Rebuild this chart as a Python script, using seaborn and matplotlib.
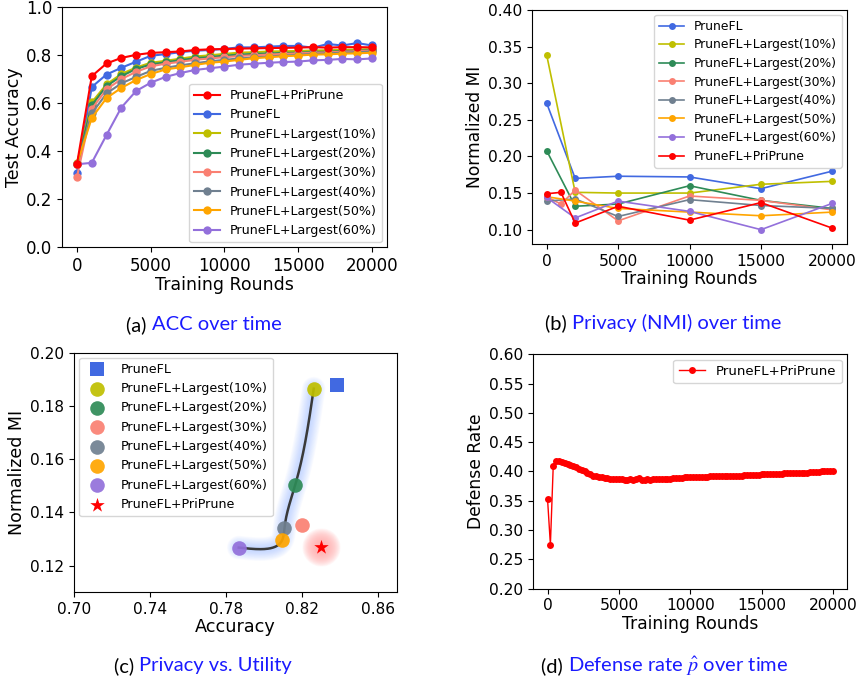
import numpy as np
import pandas as pd
import matplotlib
matplotlib.use("Agg")
import matplotlib.pyplot as plt
import seaborn as sns

plt.rcParams["font.family"] = ["DejaVu Sans"]
plt.rcParams["mathtext.fontset"] = "stix"

# ---------------------------------------------------------------- data
rounds_acc = [0, 1000, 2000, 3000, 4000, 5000, 6000, 7000, 8000, 9000, 10000,
              11000, 12000, 13000, 14000, 15000, 16000, 17000, 18000, 19000, 20000]

acc_priprune = [0.348, 0.713, 0.766, 0.789, 0.802, 0.810, 0.813, 0.816, 0.822, 0.825, 0.826,
                0.828, 0.829, 0.830, 0.831, 0.832, 0.834, 0.832, 0.834, 0.834, 0.833]
acc_prunefl = [0.310, 0.668, 0.720, 0.748, 0.773, 0.798, 0.805, 0.813, 0.819, 0.822, 0.827,
               0.833, 0.833, 0.836, 0.839, 0.839, 0.832, 0.847, 0.841, 0.851, 0.841]
acc_l10 = [0.350, 0.604, 0.679, 0.722, 0.749, 0.769, 0.777, 0.786, 0.795, 0.800, 0.806,
           0.811, 0.813, 0.816, 0.817, 0.818, 0.820, 0.821, 0.823, 0.824, 0.826]
acc_l20 = [0.347, 0.592, 0.672, 0.713, 0.743, 0.762, 0.771, 0.780, 0.788, 0.793, 0.799,
           0.803, 0.806, 0.808, 0.810, 0.811, 0.814, 0.815, 0.818, 0.819, 0.822]
acc_l30 = [0.295, 0.577, 0.658, 0.701, 0.731, 0.754, 0.765, 0.773, 0.781, 0.787, 0.792,
           0.797, 0.800, 0.803, 0.806, 0.808, 0.811, 0.812, 0.815, 0.817, 0.820]
acc_l40 = [0.346, 0.558, 0.641, 0.683, 0.710, 0.735, 0.748, 0.758, 0.767, 0.775, 0.781,
           0.787, 0.791, 0.795, 0.799, 0.802, 0.806, 0.808, 0.811, 0.813, 0.816]
acc_l50 = [0.348, 0.539, 0.622, 0.664, 0.697, 0.722, 0.741, 0.750, 0.760, 0.769, 0.774,
           0.781, 0.788, 0.792, 0.796, 0.799, 0.803, 0.804, 0.807, 0.808, 0.811]
acc_l60 = [0.346, 0.352, 0.468, 0.582, 0.651, 0.686, 0.710, 0.726, 0.739, 0.746, 0.753,
           0.761, 0.765, 0.769, 0.772, 0.774, 0.779, 0.781, 0.785, 0.783, 0.787]

rounds_mi = [0, 2000, 5000, 10000, 15000, 20000]
rounds_mi_fine = [0, 1000, 2000, 5000, 10000, 15000, 20000]
mi_prunefl = [0.273, 0.170, 0.173, 0.172, 0.156, 0.180]
mi_l10 = [0.339, 0.151, 0.150, 0.150, 0.162, 0.166]
mi_l20 = [0.208, 0.132, 0.135, 0.160, 0.140, 0.129]
mi_l30 = [0.145, 0.135, 0.154, 0.112, 0.146, 0.140, 0.127]
mi_l40 = [0.139, 0.142, 0.118, 0.141, 0.133, 0.129]
mi_l50 = [0.145, 0.139, 0.129, 0.124, 0.119, 0.124]
mi_l60 = [0.144, 0.116, 0.139, 0.125, 0.100, 0.136]
mi_priprune = [0.149, 0.151, 0.109, 0.132, 0.113, 0.137, 0.102]

methods = ["PruneFL", "PruneFL+Largest(10%)", "PruneFL+Largest(20%)", "PruneFL+Largest(30%)",
           "PruneFL+Largest(40%)", "PruneFL+Largest(50%)", "PruneFL+Largest(60%)",
           "PruneFL+PriPrune"]
colors = ["royalblue", "y", "seagreen", "salmon", "slategray", "orange",
          "mediumpurple", "red"]
final_acc = [0.8386, 0.8263, 0.8165, 0.8200, 0.8109, 0.8098, 0.7868, 0.8300]
final_mi = [0.1877, 0.1865, 0.1502, 0.1354, 0.1343, 0.1298, 0.1268, 0.1271]

rounds_def = list(range(0, 20001, 200))
defense_rate = [
    0.353, 0.275, 0.410, 0.418, 0.418, 0.416, 0.415, 0.413, 0.411, 0.409,
    0.407, 0.405, 0.403, 0.400, 0.397, 0.395, 0.393, 0.392, 0.391, 0.390,
    0.389, 0.389, 0.388, 0.388, 0.387, 0.387, 0.387, 0.386, 0.386, 0.387,
    0.386, 0.387, 0.389, 0.386, 0.386, 0.388, 0.386, 0.387, 0.387, 0.387,
    0.388, 0.388, 0.388, 0.388, 0.389, 0.389, 0.389, 0.389, 0.390, 0.390,
    0.390, 0.390, 0.391, 0.391, 0.391, 0.391, 0.391, 0.392, 0.392, 0.392,
    0.392, 0.392, 0.392, 0.393, 0.393, 0.393, 0.393, 0.393, 0.393, 0.394,
    0.394, 0.394, 0.394, 0.394, 0.394, 0.395, 0.395, 0.395, 0.395, 0.396,
    0.396, 0.396, 0.396, 0.397, 0.397, 0.397, 0.397, 0.397, 0.398, 0.398,
    0.398, 0.398, 0.399, 0.399, 0.399, 0.399, 0.400, 0.400, 0.400, 0.401,
    0.401]

# ---------------------------------------------------------------- figure
fig = plt.figure(figsize=(8.59, 6.83), dpi=100)
ax_a = fig.add_axes([0.0725, 0.6379, 0.3777, 0.3514])
ax_b = fig.add_axes([0.6197, 0.6423, 0.3660, 0.3430])
ax_c = fig.add_axes([0.0861, 0.1328, 0.3757, 0.3508])
ax_d = fig.add_axes([0.6208, 0.1381, 0.3655, 0.3432])


def line(ax, x, y, color, label, ms, lw):
    sns.lineplot(x=x, y=y, ax=ax, color=color, label=label, marker="o",
                 markersize=ms, markeredgewidth=0, linewidth=lw)


# (a) accuracy over training
acc_series = [acc_prunefl, acc_l10, acc_l20, acc_l30, acc_l40, acc_l50, acc_l60, acc_priprune]
for vals, name, col in zip(acc_series, methods, colors):
    line(ax_a, rounds_acc, vals, col, name, 6, 1.5)
ax_a.set_ylim(0.0, 1.0)
ax_a.set_xticks([0, 5000, 10000, 15000, 20000])
ax_a.set_xlabel("Training Rounds", fontsize=12.5, labelpad=1)
ax_a.set_ylabel("Test Accuracy", fontsize=12.5, labelpad=2)
ax_a.tick_params(labelsize=12)
h, l = ax_a.get_legend_handles_labels()
order = [7, 0, 1, 2, 3, 4, 5, 6]
ax_a.legend([h[i] for i in order], [l[i] for i in order], loc="lower right",
            fontsize=9.1, labelspacing=0.5, borderaxespad=0.4)

# (b) normalized mutual information over training
mi_series = [(rounds_mi, mi_prunefl), (rounds_mi, mi_l10), (rounds_mi, mi_l20),
             (rounds_mi_fine, mi_l30), (rounds_mi, mi_l40), (rounds_mi, mi_l50),
             (rounds_mi, mi_l60), (rounds_mi_fine, mi_priprune)]
for (xs, vals), name, col in zip(mi_series, methods, colors):
    line(ax_b, xs, vals, col, name, 5, 1.2)
ax_b.set_ylim(0.08, 0.40)
ax_b.set_yticks([0.10, 0.15, 0.20, 0.25, 0.30, 0.35, 0.40])
ax_b.set_xticks([0, 5000, 10000, 15000, 20000])
ax_b.set_xlabel("Training Rounds", fontsize=12.3, labelpad=1)
ax_b.set_ylabel("Normalized MI", fontsize=12.3, labelpad=3)
ax_b.tick_params(labelsize=11.2)
ax_b.legend(loc="upper right", fontsize=8.9, labelspacing=0.45, borderaxespad=0.4)

# (c) privacy vs. utility
ax_c.set_xlim(0.70, 0.87)
ax_c.set_ylim(0.11, 0.20)
fig.canvas.draw()

# smooth frontier through the top-k pruning points, in display-scaled space
front = [6, 5, 4, 2, 1]
fx = np.array([final_acc[i] for i in front])
fy = np.array([final_mi[i] for i in front])
sx, sy = 323.0 / 0.17, 240.0 / 0.09
px, py = fx * sx, fy * sy
t = np.concatenate([[0.0], np.cumsum(np.hypot(np.diff(px), np.diff(py)))])


def natural_spline(t, y, tt):
    n = len(t)
    hh = np.diff(t)
    A = np.zeros((n, n))
    r = np.zeros(n)
    A[0, 0] = A[-1, -1] = 1.0
    for i in range(1, n - 1):
        A[i, i - 1] = hh[i - 1]
        A[i, i] = 2 * (hh[i - 1] + hh[i])
        A[i, i + 1] = hh[i]
        r[i] = 3 * ((y[i + 1] - y[i]) / hh[i] - (y[i] - y[i - 1]) / hh[i - 1])
    c = np.linalg.solve(A, r)
    b = np.diff(y) / hh - hh * (2 * c[:-1] + c[1:]) / 3
    d = np.diff(c) / (3 * hh)
    idx = np.clip(np.searchsorted(t, tt, side="right") - 1, 0, n - 2)
    dt = tt - t[idx]
    return y[idx] + b[idx] * dt + c[idx] * dt ** 2 + d[idx] * dt ** 3


tt = np.linspace(0, t[-1], 300)
cx = natural_spline(t, px, tt) / sx
cy = natural_spline(t, py, tt) / sy

for w in np.linspace(17, 3, 14):
    ax_c.plot(cx, cy, color="#8ab2ff", lw=w, alpha=0.04, solid_capstyle="round", zorder=1)
for s in np.linspace(760, 60, 16):
    ax_c.scatter([final_acc[7]], [final_mi[7]], s=s, color="#ff7070", alpha=0.04,
                 linewidths=0, zorder=1)
ax_c.plot(cx, cy, color="#3a3a3a", lw=1.8, zorder=2)

markers = ["s", "o", "o", "o", "o", "o", "o", "*"]
sizes = [90, 110, 110, 110, 110, 110, 110, 120]
for i, name in enumerate(methods):
    sns.scatterplot(x=[final_acc[i]], y=[final_mi[i]], ax=ax_c, marker=markers[i],
                    s=sizes[i], color=colors[i], linewidth=0, label=name,
                    alpha=0.92 if markers[i] == "o" else 1.0, zorder=3)
ax_c.set_xticks([0.70, 0.74, 0.78, 0.82, 0.86])
ax_c.set_yticks([0.12, 0.14, 0.16, 0.18, 0.20])
ax_c.set_xlabel("Accuracy", fontsize=12.7, labelpad=1)
ax_c.set_ylabel("Normalized MI", fontsize=12.5, labelpad=3)
ax_c.tick_params(labelsize=11.1)
ax_c.legend(loc="upper left", fontsize=9.1, labelspacing=0.5, handletextpad=0.9,
            borderaxespad=0.4)

# (d) defense rate over training
sns.lineplot(x=rounds_def, y=defense_rate, ax=ax_d, color="red", marker="o",
             markersize=5, markeredgewidth=0, linewidth=1.0, label="PruneFL+PriPrune")
ax_d.set_ylim(0.20, 0.60)
ax_d.set_yticks([0.20, 0.25, 0.30, 0.35, 0.40, 0.45, 0.50, 0.55, 0.60])
ax_d.set_xticks([0, 5000, 10000, 15000, 20000])
ax_d.set_xlabel("Training Rounds", fontsize=12.3, labelpad=1)
ax_d.set_ylabel("Defense Rate", fontsize=12.3, labelpad=3)
ax_d.tick_params(labelsize=11.2)
ax_d.legend(loc="upper right", fontsize=9.6, borderaxespad=0.4)

# ---------------------------------------------------------------- captions
cap_font = dict(family=["Lato", "DejaVu Sans"], fontsize=14.5)
captions = [("(a)", "ACC over time", 204, 325),
            ("(b)", "Privacy (NMI) over time", 663, 323),
            ("(c)", "Privacy vs. Utility", 203, 666),
            ("(d)", "Defense rate $\\hat{p}$ over time", 665, 666)]
W, H = 859.0, 683.0
renderer = fig.canvas.get_renderer()
for tag, body, cxp, cyp in captions:
    t1 = fig.text(0, 0, tag + " ", color="black", va="center", ha="left", **cap_font)
    t2 = fig.text(0, 0, body, color="#1a1aff", va="center", ha="left", **cap_font)
    w1 = t1.get_window_extent(renderer).width
    w2 = t2.get_window_extent(renderer).width
    x0 = cxp - (w1 + w2) / 2
    t1.set_position((x0 / W, 1 - cyp / H))
    t2.set_position(((x0 + w1) / W, 1 - cyp / H))

fig.savefig("out.png", dpi=100)
